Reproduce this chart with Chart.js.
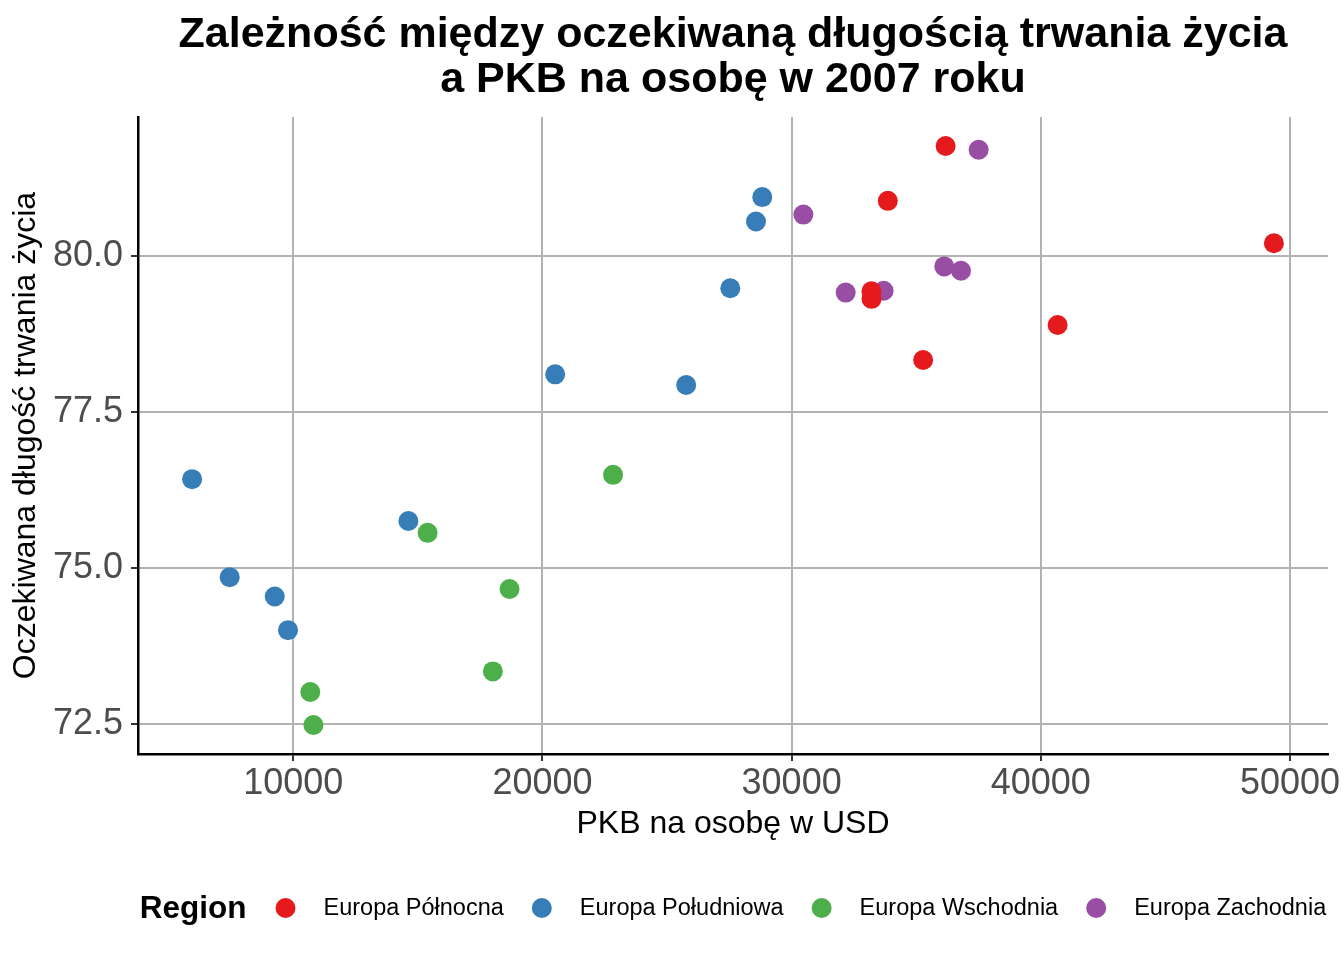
<!DOCTYPE html>
<html>
<head>
<meta charset="utf-8">
<script src="https://cdn.jsdelivr.net/npm/chart.js@4.4.1/dist/chart.umd.min.js"></script>
<style>
html,body{margin:0;padding:0;background:#fff;}
canvas{display:block;}
</style>
</head>
<body>
<canvas id="c" width="1344" height="960"></canvas>
<script>
// ---- data ----
const titleLines = ['Zależność między oczekiwaną długością trwania życia', 'a PKB na osobę w 2007 roku'];
const xTitle = 'PKB na osobę w USD';
const yTitle = 'Oczekiwana długość trwania życia';
const legendTitle = 'Region';
const regions = ['Europa Północna', 'Europa Południowa', 'Europa Wschodnia', 'Europa Zachodnia'];
const colors = ['#E41A1C', '#377EB8', '#4DAF4A', '#984EA3'];

const gdpNorth  = [33860, 40676, 36181, 49357, 33207, 35278, 33203];
const lifeNorth = [80.88, 78.89, 81.76, 80.20, 79.31, 78.33, 79.43];

const gdpSouth  = [5937, 7446, 14619, 27538, 28570, 9254, 20510, 9787, 25768, 28821];
const lifeSouth = [76.42, 74.85, 75.75, 79.48, 80.55, 74.54, 78.10, 74.00, 77.93, 80.94];

const gdpEast  = [10681, 22833, 18009, 15390, 10808, 18678];
const lifeEast = [73.01, 76.49, 73.34, 75.56, 72.48, 74.66];

const gdpWest  = [36126, 33693, 30470, 32170, 36798, 37506];
const lifeWest = [79.83, 79.44, 80.66, 79.41, 79.76, 81.70];

const xTicks = [10000, 20000, 30000, 40000, 50000];
const yTicks = [72.5, 75.0, 77.5, 80.0];

// ---- build ----
const gdpSeries = [gdpNorth, gdpSouth, gdpEast, gdpWest];
const lifeSeries = [lifeNorth, lifeSouth, lifeEast, lifeWest];

function expandRange(vals) {
  const mn = Math.min(...vals), mx = Math.max(...vals), r = mx - mn;
  return [mn - 0.05 * r, mx + 0.05 * r];
}
const xRange = expandRange(gdpSeries.flat());
const yRange = expandRange(lifeSeries.flat());

const datasets = regions.map((name, i) => ({
  label: name,
  data: gdpSeries[i].map((g, j) => ({x: g, y: lifeSeries[i][j]})),
  backgroundColor: colors[i],
  borderWidth: 0,
  pointRadius: 10,
  pointHoverRadius: 10
}));

const FONT = '"Liberation Sans", Arial, Helvetica, sans-serif';

const ggPlugin = {
  id: 'ggDecor',
  afterDraw(chart) {
    const {ctx, chartArea: a} = chart;
    const cx = (a.left + a.right) / 2;
    ctx.save();
    ctx.fillStyle = '#000';
    ctx.textAlign = 'center';
    ctx.textBaseline = 'alphabetic';
    ctx.font = 'bold 43px ' + FONT;
    ctx.fillText(titleLines[0], cx, 47);
    ctx.fillText(titleLines[1], cx, 92);

    // legend
    const ly = 908;
    ctx.textBaseline = 'middle';
    ctx.textAlign = 'left';
    ctx.font = 'bold 31.5px ' + FONT;
    const tW = ctx.measureText(legendTitle).width;
    ctx.font = '23.5px ' + FONT;
    const widths = regions.map(r => ctx.measureText(r).width);
    let total = tW;
    widths.forEach((w, i) => { total += (i === 0 ? 39 : 38) + 38 + w; });
    let x = cx - total / 2;
    ctx.font = 'bold 31.5px ' + FONT;
    ctx.fillText(legendTitle, x, ly + 1);
    x += tW;
    ctx.font = '23.5px ' + FONT;
    regions.forEach((r, i) => {
      x += (i === 0 ? 39 : 38);
      ctx.beginPath();
      ctx.arc(x, ly, 10, 0, Math.PI * 2);
      ctx.fillStyle = colors[i];
      ctx.fill();
      x += 38;
      ctx.fillStyle = '#000';
      ctx.fillText(r, x, ly + 1);
      x += widths[i];
    });
    ctx.restore();
  }
};

new Chart(document.getElementById('c'), {
  type: 'scatter',
  data: {datasets},
  plugins: [ggPlugin],
  options: {
    responsive: false,
    devicePixelRatio: 1,
    animation: false,
    events: [],
    layout: {padding: {left: 0, right: 16, top: 117, bottom: 100}},
    plugins: {legend: {display: false}, tooltip: {enabled: false}, title: {display: false}},
    scales: {
      x: {
        type: 'linear',
        min: xRange[0],
        max: xRange[1],
        afterBuildTicks: s => { s.ticks = xTicks.map(v => ({value: v})); },
        afterFit: s => { s.height = 106; s.paddingLeft = 0; s.paddingRight = 0; },
        ticks: {
          callback: v => String(v),
          color: '#4d4d4d',
          font: {family: FONT, size: 36, lineHeight: 1},
          padding: 5,
          maxRotation: 0,
          autoSkip: false
        },
        grid: {color: '#b3b3b3', lineWidth: 2, tickColor: '#333333', tickWidth: 2, tickLength: 7, drawTicks: true},
        border: {display: true, color: '#000', width: 2.5},
        title: {display: true, text: xTitle, color: '#000', font: {family: FONT, size: 32, lineHeight: 1.2}, padding: {top: 0, bottom: 17}}
      },
      y: {
        type: 'linear',
        min: yRange[0],
        max: yRange[1],
        afterBuildTicks: s => { s.ticks = yTicks.map(v => ({value: v})); },
        afterFit: s => { s.width = 138; s.paddingTop = 0; s.paddingBottom = 0; },
        ticks: {
          callback: v => Number(v).toFixed(1),
          color: '#4d4d4d',
          font: {family: FONT, size: 36, lineHeight: 1},
          padding: 8,
          autoSkip: false
        },
        grid: {color: '#b3b3b3', lineWidth: 2, tickColor: '#333333', tickWidth: 2, tickLength: 7, drawTicks: true},
        border: {display: true, color: '#000', width: 2.5},
        title: {display: true, text: yTitle, color: '#000', font: {family: FONT, size: 32, lineHeight: 1.2}, padding: {top: 7, bottom: 0}}
      }
    }
  }
});
</script>
</body>
</html>
